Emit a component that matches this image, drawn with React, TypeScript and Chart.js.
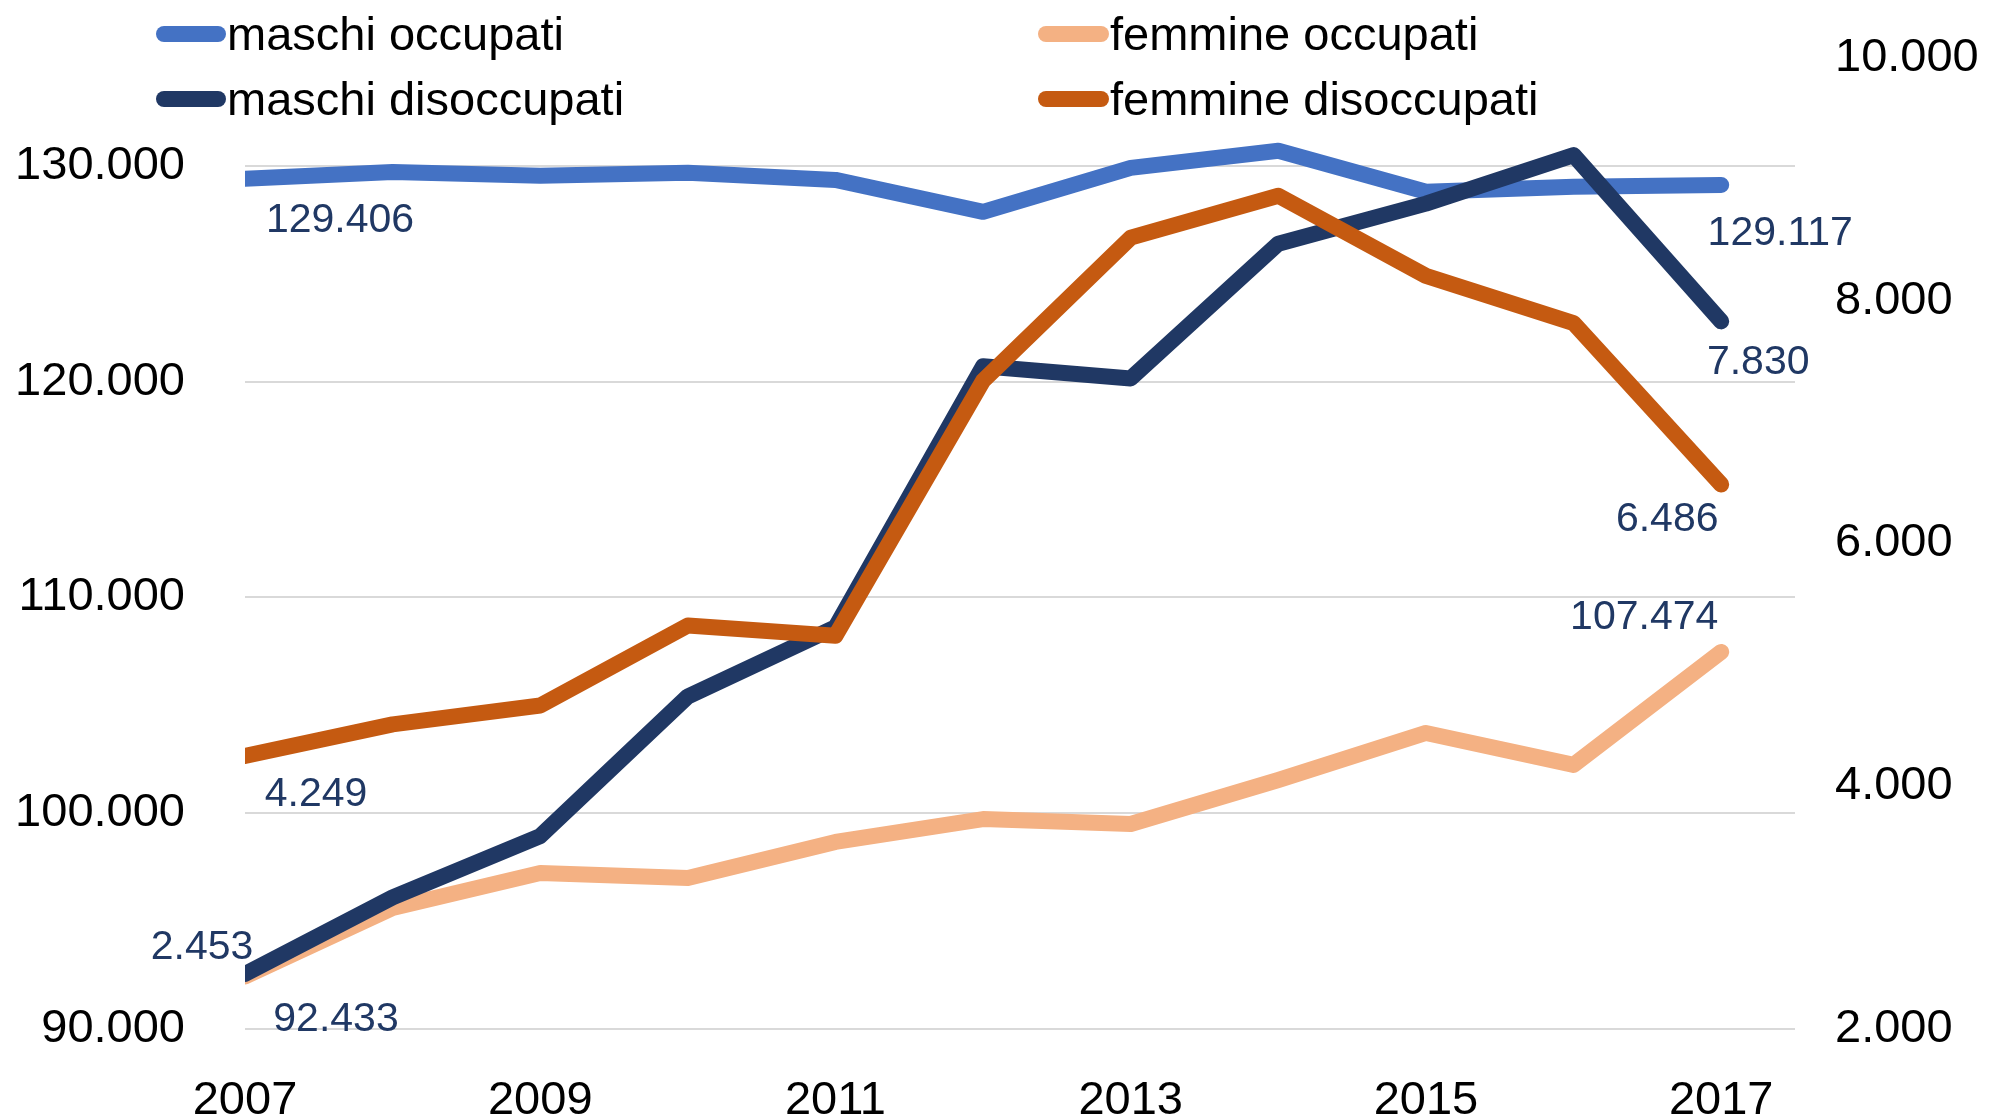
import React, { useEffect, useRef } from "react";
import { Chart, registerables } from "chart.js";

Chart.register(...registerables);

// ---- data ----
const years = [2007, 2008, 2009, 2010, 2011, 2012, 2013, 2014, 2015, 2016, 2017];
const seriesNames = ["maschi occupati", "femmine occupati", "maschi disoccupati", "femmine disoccupati"];
const maschiOccupati = [129406, 129720, 129540, 129680, 129350, 127870, 129910, 130700, 128800, 129030, 129117];
const femmineOccupati = [92433, 95610, 97230, 97000, 98670, 99730, 99500, 101540, 103720, 102240, 107474];
const maschiDisoccupati = [2453, 3085, 3590, 4740, 5310, 7460, 7360, 8470, 8800, 9200, 7830];
const femmineDisoccupati = [4249, 4510, 4665, 5325, 5240, 7340, 8520, 8865, 8205, 7815, 6486];
const xTickValues = [2007, 2009, 2011, 2013, 2015, 2017];
const leftTickValues = [90000, 100000, 110000, 120000, 130000];
const rightTickValues = [2000, 4000, 6000, 8000, 10000];

// ---- style ----
const FONT = "'Liberation Sans', Arial, sans-serif";
const COLORS = ["#4472C4", "#F4B183", "#203864", "#C55A11"];
const LABEL_COLOR = "#203864";
const GRID_COLOR = "#D9D9D9";

const fmt = (v: number) => String(Math.round(v)).replace(/\B(?=(\d{3})+(?!\d))/g, ".");

// offsets (px) of end labels relative to first / last point of each series
const labelOffsets = [
  { first: [95, 42], last: [59, 49] },
  { first: [91, 43], last: [-77, -34] },
  { first: [-43, -26], last: [37, 41] },
  { first: [71, 39], last: [-54, 35] },
];

const legendLayout = [
  { x1: 164, x2: 218, tx: 227, sy: 34, ty: 50 },
  { x1: 1046, x2: 1101, tx: 1110, sy: 34, ty: 50 },
  { x1: 164, x2: 218, tx: 227, sy: 99, ty: 115 },
  { x1: 1046, x2: 1101, tx: 1110, sy: 99, ty: 115 },
];

const endLabelsPlugin = {
  id: "endLabels",
  afterDatasetsDraw(chart: any) {
    const ctx = chart.ctx;
    ctx.save();
    ctx.font = `41px ${FONT}`;
    ctx.fillStyle = LABEL_COLOR;
    ctx.textAlign = "center";
    ctx.textBaseline = "middle";
    chart.data.datasets.forEach((ds: any, di: number) => {
      const meta = chart.getDatasetMeta(di);
      const n = meta.data.length;
      const ends: [number, "first" | "last"][] = [[0, "first"], [n - 1, "last"]];
      ends.forEach(([idx, key]) => {
        const pt = meta.data[idx];
        const off = labelOffsets[di][key];
        ctx.fillText(fmt(ds.data[idx].y), pt.x + off[0], pt.y + off[1]);
      });
    });
    ctx.restore();
  },
};

const legendPlugin = {
  id: "customLegend",
  afterDraw(chart: any) {
    const ctx = chart.ctx;
    ctx.save();
    ctx.font = `47px ${FONT}`;
    ctx.textAlign = "left";
    ctx.textBaseline = "alphabetic";
    chart.data.datasets.forEach((ds: any, i: number) => {
      const L = legendLayout[i];
      ctx.strokeStyle = ds.borderColor;
      ctx.lineWidth = 16;
      ctx.lineCap = "round";
      ctx.beginPath();
      ctx.moveTo(L.x1, L.sy);
      ctx.lineTo(L.x2, L.sy);
      ctx.stroke();
      ctx.fillStyle = "#000000";
      ctx.fillText(ds.label, L.tx, L.ty);
    });
    ctx.restore();
  },
};

const allSeries = [maschiOccupati, femmineOccupati, maschiDisoccupati, femmineDisoccupati];
const axisFor = ["yL", "yL", "yR", "yR"];
const drawOrder = [3, 2, 1, 0];

export default function App() {
  const ref = useRef<HTMLCanvasElement>(null);
  useEffect(() => {
    document.body.style.margin = "0";
    const datasets = allSeries.map((vals, i) => ({
      label: seriesNames[i],
      data: vals.map((v, j) => ({ x: years[j], y: v })),
      yAxisID: axisFor[i],
      borderColor: COLORS[i],
      backgroundColor: COLORS[i],
      borderWidth: 16,
      borderCapStyle: "round",
      borderJoinStyle: "round",
      pointRadius: 0,
      pointHoverRadius: 0,
      tension: 0,
      fill: false,
      clip: 0,
      order: drawOrder[i],
    }));
    const chart = new Chart(ref.current!, {
      type: "line",
      data: { datasets } as any,
      options: {
        responsive: false,
        animation: false,
        devicePixelRatio: 1,
        layout: { padding: { top: 58, left: 0, right: 0, bottom: 0 } },
        plugins: { legend: { display: false }, tooltip: { enabled: false } },
        scales: {
          x: {
            type: "linear",
            min: 2007,
            max: 2017.5,
            grid: { display: false },
            border: { display: false },
            afterBuildTicks: (s: any) => { s.ticks = xTickValues.map((v) => ({ value: v })); },
            afterFit: (s: any) => { s.height = 88; s.paddingLeft = 0; s.paddingRight = 0; },
            ticks: {
              autoSkip: false,
              maxRotation: 0,
              padding: 36,
              color: "#000000",
              font: { family: FONT, size: 47 },
              callback: (v: any) => String(v),
            },
          },
          yL: {
            type: "linear",
            position: "left",
            min: 90000,
            max: 135000,
            grid: { color: GRID_COLOR, lineWidth: 2, drawTicks: false },
            border: { display: false },
            afterBuildTicks: (s: any) => { s.ticks = leftTickValues.map((v) => ({ value: v })); },
            afterFit: (s: any) => { s.width = 245; s.paddingTop = 0; s.paddingBottom = 0; },
            ticks: {
              padding: 60,
              color: "#000000",
              font: { family: FONT, size: 47 },
              callback: (v: any) => fmt(Number(v)),
            },
          },
          yR: {
            type: "linear",
            position: "right",
            min: 2000,
            max: 10000,
            grid: { display: false, drawTicks: false },
            border: { display: false },
            afterBuildTicks: (s: any) => { s.ticks = rightTickValues.map((v) => ({ value: v })); },
            afterFit: (s: any) => { s.width = 207; s.paddingTop = 0; s.paddingBottom = 0; },
            ticks: {
              padding: 40,
              color: "#000000",
              font: { family: FONT, size: 47 },
              callback: (v: any) => fmt(Number(v)),
            },
          },
        },
      } as any,
      plugins: [endLabelsPlugin, legendPlugin],
    });
    return () => chart.destroy();
  }, []);
  return (
    <div style={{ width: 2002, height: 1117, background: "#ffffff" }}>
      <canvas ref={ref} width={2002} height={1117} style={{ display: "block" }} />
    </div>
  );
}
